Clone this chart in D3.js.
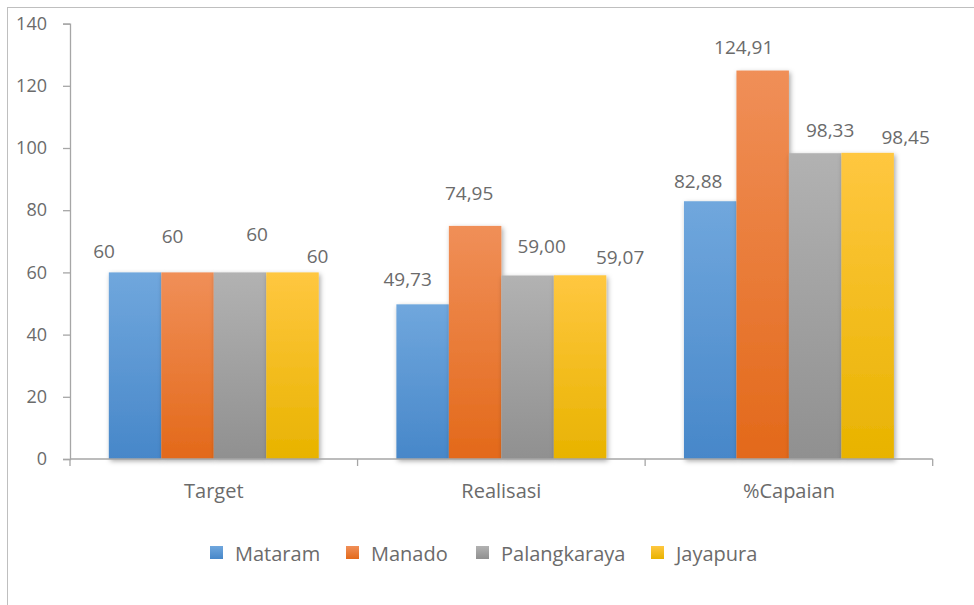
<!DOCTYPE html>
<html>
<head>
<meta charset="utf-8">
<script src="https://cdn.jsdelivr.net/npm/d3@7"></script>
<style>
  html, body { margin: 0; padding: 0; background: #fff; }
  svg { display: block; }
  text { font-family: "Open Sans", "Noto Sans", sans-serif; fill: #6b6b6b; }
</style>
</head>
<body>
<svg id="chart" width="974" height="605"></svg>
<script>
// ---- data ----
const categories = ["Target", "Realisasi", "%Capaian"];
const seriesNames = ["Mataram", "Manado", "Palangkaraya", "Jayapura"];
const mataram = [60, 49.73, 82.88];
const manado = [60, 74.95, 124.91];
const palangkaraya = [60, 59.00, 98.33];
const jayapura = [60, 59.07, 98.45];
const yTicks = [0, 20, 40, 60, 80, 100, 120, 140];

// ---- styling ----
const seriesColors = [
  ["#70a7dd", "#4787c9"],
  ["#f08f58", "#e3691a"],
  ["#b2b2b2", "#909090"],
  ["#ffc740", "#e8b300"]
];
// label nudges (dx, dy) relative to the top-centre of each bar, per category then series
const labelNudge = [
  [[-31, -21], [-15, -36], [17, -38], [25, -16]],
  [[-15, -25], [-6, -33], [14, -30], [40, -18]],
  [[-12, -20], [-19, -24], [15, -23], [38, -16]]
];

const seriesValues = [mataram, manado, palangkaraya, jayapura];
const svg = d3.select("#chart");

// outer chart border (extends beyond window on right/bottom)
svg.append("rect").attr("x", 7.5).attr("y", 7.5).attr("width", 1100).attr("height", 800)
  .attr("fill", "none").attr("stroke", "#bfbfbf").attr("stroke-width", 1);

const defs = svg.append("defs");
seriesColors.forEach((c, i) => {
  const g = defs.append("linearGradient").attr("id", "grad" + i)
    .attr("x1", 0).attr("y1", 0).attr("x2", 0).attr("y2", 1);
  g.append("stop").attr("offset", "0%").attr("stop-color", c[0]);
  g.append("stop").attr("offset", "100%").attr("stop-color", c[1]);
});
const f = defs.append("filter").attr("id", "shadow")
  .attr("x", "-20%").attr("y", "-10%").attr("width", "150%").attr("height", "130%");
f.append("feDropShadow").attr("dx", 1.5).attr("dy", 2).attr("stdDeviation", 2.5)
  .attr("flood-color", "#000").attr("flood-opacity", 0.35);

const plotLeft = 70, plotRight = 932.7, plotTop = 23.6, plotBottom = 459;
const x0 = d3.scaleBand().domain(categories).range([plotLeft, plotRight]).padding(0);
const bw = x0.bandwidth();
const gap = bw * 0.27;
const x1 = d3.scaleBand().domain(seriesNames).range([gap / 2, bw - gap / 2]).padding(0);
const y = d3.scaleLinear().domain([0, 140]).range([plotBottom, plotTop]);

// y axis
const yAxis = svg.append("g").attr("transform", `translate(${plotLeft},0)`)
  .call(d3.axisLeft(y).tickValues(yTicks).tickSize(7).tickPadding(16).tickFormat(d3.format("d")));
yAxis.select(".domain").attr("stroke", "#a6a6a6").attr("stroke-width", 1.3);
yAxis.selectAll(".tick line").attr("stroke", "#a6a6a6").attr("stroke-width", 1.3);
yAxis.selectAll(".tick text").style("font-size", "18px").attr("fill", "#6b6b6b")
  .style("font-family", '"Open Sans", sans-serif');

// bars
const groups = svg.append("g").selectAll("g").data(categories).join("g")
  .attr("transform", d => `translate(${x0(d)},0)`);

groups.each(function (cat, ci) {
  const g = d3.select(this);
  seriesNames.forEach((s, si) => {
    const v = seriesValues[si][ci];
    g.append("rect")
      .attr("x", x1(s)).attr("y", y(v))
      .attr("width", x1.bandwidth()).attr("height", y(0) - y(v))
      .attr("fill", `url(#grad${si})`)
      .attr("filter", "url(#shadow)");
  });
});

// x axis (drawn over bars)
const xAxis = svg.append("g").attr("transform", `translate(0,${plotBottom})`);
xAxis.append("line").attr("x1", plotLeft).attr("x2", plotRight).attr("y1", 0).attr("y2", 0)
  .attr("stroke", "#a6a6a6").attr("stroke-width", 1.3);
const xTickPos = categories.map(c => x0(c)).concat([x0(categories[categories.length - 1]) + bw]);
xAxis.selectAll(".xt").data(xTickPos).join("line")
  .attr("x1", d => d).attr("x2", d => d).attr("y1", 0).attr("y2", 7)
  .attr("stroke", "#a6a6a6").attr("stroke-width", 1.3);
xAxis.selectAll(".xl").data(categories).join("text")
  .attr("x", d => x0(d) + bw / 2).attr("y", 31)
  .attr("text-anchor", "middle").attr("dominant-baseline", "central")
  .style("font-size", "20px").text(d => d);

// data labels
const fmt2 = v => d3.format(".2f")(v).replace(".", ",");
groups.each(function (cat, ci) {
  const g = d3.select(this);
  seriesNames.forEach((s, si) => {
    const v = seriesValues[si][ci];
    const [dx, dy] = labelNudge[ci][si];
    g.append("text")
      .attr("x", x1(s) + x1.bandwidth() / 2 + dx)
      .attr("y", y(v) + dy)
      .attr("text-anchor", "middle").attr("dominant-baseline", "central")
      .style("font-size", "19px")
      .text(ci === 0 ? d3.format("d")(v) : fmt2(v));
  });
});

// legend
const legendX = [210, 346, 476, 651];
const legend = svg.append("g");
seriesNames.forEach((s, i) => {
  const lg = legend.append("g").attr("transform", `translate(${legendX[i]},546)`);
  lg.append("rect").attr("width", 13).attr("height", 13).attr("fill", `url(#grad${i})`);
  lg.append("text").attr("x", 25).attr("y", 7).attr("dominant-baseline", "central")
    .style("font-size", "20px").text(s);
});
</script>
</body>
</html>
